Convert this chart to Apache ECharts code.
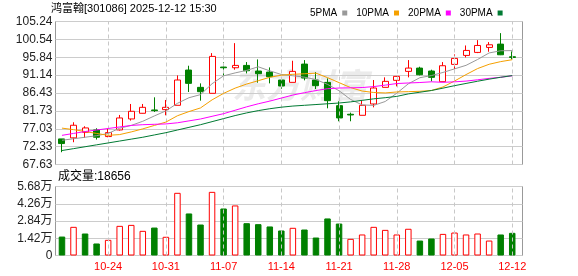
<!DOCTYPE html>
<html><head><meta charset="utf-8">
<script src="https://cdn.jsdelivr.net/npm/echarts@6/dist/echarts.min.js"></script>
<style>html,body{margin:0;padding:0;background:#fff}#c{width:578px;height:276px}</style>
</head><body><div id="c"></div>
<script>
const titleText = '鸿富翰[301086] 2025-12-12 15:30';
const volTitle = '成交量:18656';
const dates = ['10-20','10-21','10-22','10-23','10-24','10-27','10-28','10-29','10-30','10-31',
  '11-03','11-04','11-05','11-06','11-07','11-10','11-11','11-12','11-13','11-14',
  '11-17','11-18','11-19','11-20','11-21','11-24','11-25','11-26','11-27','11-28',
  '12-01','12-02','12-03','12-04','12-05','12-08','12-09','12-10','12-11','12-12'];
const opens  = [74.36,74.63,76.11,76.72,74.98,76.72,79.61,81.10,81.97,82.06,
  83.20,92.47,87.92,86.35,93.26,93.08,93.69,92.21,91.94,89.85,
  89.23,94.04,89.85,89.23,83.11,80.84,80.57,83.55,87.92,89.76,
  92.12,92.99,92.21,89.41,93.96,96.32,97.11,98.42,99.29,95.97];
const closes = [73.14,77.95,77.25,74.80,76.02,79.87,81.62,82.67,81.80,82.67,
  89.85,88.97,86.78,96.06,93.08,93.69,92.29,91.51,90.72,88.27,
  92.12,90.37,88.36,84.42,79.87,80.66,83.20,87.75,89.50,90.81,
  92.99,91.24,90.55,93.61,95.53,97.63,98.94,99.12,96.49,95.79];
const lows   = [70.86,73.49,74.63,74.19,74.80,76.55,79.17,81.05,81.45,80.57,
  83.20,86.70,84.42,86.35,91.07,92.56,91.59,89.15,88.97,87.57,
  89.23,89.76,87.48,82.41,79.00,79.00,80.57,82.67,87.92,88.18,
  90.55,91.07,89.50,89.41,92.73,95.79,96.93,97.28,96.40,95.27];
const highs  = [74.36,78.74,77.69,77.16,77.07,80.66,83.55,83.55,85.30,84.60,
  91.07,93.61,88.97,96.93,94.57,99.55,94.57,95.27,93.17,90.02,
  94.92,95.09,91.94,90.28,84.25,81.27,84.51,89.85,90.55,90.90,
  95.09,93.34,92.56,94.57,96.58,98.94,100.34,99.82,102.18,97.37];
const ma5  = [74.0,74.4,74.8,75.2,75.8,77.18,77.91,79.00,80.40,81.73,
  83.72,85.19,86.01,88.87,90.95,91.72,92.38,93.33,92.26,91.30,
  90.98,90.60,89.97,88.71,87.03,84.74,83.30,83.18,84.20,86.38,
  88.85,90.46,91.02,91.84,92.78,93.71,95.25,96.97,97.54,97.59];
const ma10 = [77.2,76.8,76.3,75.8,75.3,75.5,76.2,77.0,77.9,78.78,
  80.45,81.55,82.51,84.63,86.34,87.72,88.79,89.67,90.56,91.12,
  91.35,91.49,91.65,90.48,89.16,87.86,86.95,86.57,86.45,86.71,
  86.79,86.88,87.10,88.02,89.58,91.28,92.86,93.99,94.69,95.19];
const ma20 = [75.3,75.8,76.3,76.7,77.1,77.5,77.9,78.1,78.2,78.3,
  78.6,79.1,79.6,80.3,81.0,81.9,82.8,83.6,84.3,85.1,
  85.9,86.52,87.08,87.56,87.75,87.79,87.87,88.12,88.51,88.92,
  89.07,89.19,89.38,89.25,89.37,89.57,89.91,90.28,90.57,90.95];
const ma30 = [71.3,71.8,72.3,72.8,73.3,73.8,74.3,74.8,75.4,76.0,
  76.7,77.4,78.1,78.9,79.7,80.5,81.2,81.8,82.3,82.7,
  83.0,83.2,83.4,83.6,83.8,84.1,84.5,84.9,85.2,85.54,
  86.20,86.64,87.09,87.71,88.36,88.95,89.53,90.08,90.57,91.01];
const volumes = [15600,23600,18100,9900,12900,24400,25200,20300,23000,15400,
  51600,34600,25500,52400,38700,41200,26600,25800,23900,20600,
  22800,21400,14800,30500,26300,13700,17300,23600,21100,17300,
  22000,12300,14000,17800,18900,17300,18100,12300,17300,18656];
const maNames = ['5PMA','10PMA','20PMA','30PMA'];
const priceTickLabels = ['67.63','72.33','77.03','81.73','86.43','91.14','95.84','100.54','105.24'];
const volTickLabels = ['0','1.42万','2.84万','4.26万','5.68万'];
const xTickLabels = ['10-24','10-31','11-07','11-14','11-21','11-28','12-05','12-12'];
const priceMin = 67.63, priceMax = 105.24, volMax = 56800;

const FONT = '"Liberation Sans","Noto Sans CJK SC",sans-serif';
const RED = '#ff0000', GREEN = '#008000';
const maColors = ['#999999','#f5a000','#ff00ff','#007a33'];
const chart = echarts.init(document.getElementById('c'), null, {renderer:'canvas'});

const candleData = dates.map((d,i)=>[opens[i], closes[i], lows[i], highs[i]]);
const volData = volumes.map((v,i)=>{
  const down = i === 0 ? closes[i] < opens[i] : closes[i] < closes[i-1];
  return {value: v, itemStyle: down ? {color: GREEN, borderColor: GREEN} : {color: '#fff', borderColor: RED}};
});
const vlines = () => ({silent:true, symbol:'none', animation:false, label:{show:false},
  lineStyle:{color:'#c8c8c8', type:[4,3], width:1},
  emphasis:{disabled:true},
  data: xTickLabels.map(d=>({xAxis:d}))});
const maSeries = [ma5, ma10, ma20, ma30].map((arr,k)=>({
  name: maNames[k], type:'line', xAxisIndex:1, yAxisIndex:1, data: arr,
  symbol:'none', smooth:false, z:5, lineStyle:{width:1, color: maColors[k]},
  itemStyle:{color: maColors[k]}, emphasis:{disabled:true}
}));

const dataLeft = 56.2, dataWidth = 461.8;
chart.setOption({
  animation:false,
  backgroundColor:'#fff',
  textStyle:{fontFamily: FONT},
  legend:{data: maNames, left: 305, top: 3, icon:'rect', itemWidth:5, itemHeight:5, itemGap:9,
    align:'right', textStyle:{fontSize:10, color:'#000', fontFamily: FONT}, selectedMode:false},
  graphic:[
    {type:'text', left:51, top:3, style:{text:titleText, font:'11px ' + FONT, fill:'#000'}},
    {type:'text', left:58, top:171, style:{text:volTitle, font:'12px ' + FONT, fill:'#000'}},
    {type:'text', left:232, top:68, z:-10, style:{text:'东方财富', font:'italic bold 34px "Noto Sans CJK SC"', fill:'#ebebeb'}}
  ],
  grid:[
    {left:55.5, top:21.5, width:467, height:143, show:true, borderColor:'#999', borderWidth:1, backgroundColor:'transparent'},
    {left:dataLeft, top:21.5, width:dataWidth, height:143},
    {left:55.5, top:186.5, width:467, height:69, show:true, borderColor:'#999', borderWidth:1, backgroundColor:'transparent'},
    {left:dataLeft, top:186.5, width:dataWidth, height:69}
  ],
  xAxis:[
    {gridIndex:0, type:'value', min:0, max:1, show:false},
    {gridIndex:1, type:'category', data:dates, boundaryGap:true, axisLine:{show:false}, axisTick:{show:false}, axisLabel:{show:false}, splitLine:{show:false}},
    {gridIndex:2, type:'value', min:0, max:1, show:false},
    {gridIndex:3, type:'category', data:dates, boundaryGap:true, axisLine:{show:false}, axisTick:{show:false}, splitLine:{show:false},
      axisLabel:{show:true, interval:(i,v)=>xTickLabels.includes(v), color:RED, fontSize:11, margin:6, fontFamily:FONT}}
  ],
  yAxis:[
    {gridIndex:0, type:'value', min:0, max:8, interval:1, axisLine:{show:false}, axisTick:{show:false},
      axisLabel:{formatter:v=>priceTickLabels[Math.round(v)], margin:3, fontSize:12, color:'#222', fontFamily:FONT},
      splitLine:{lineStyle:{color:'#cccccc', width:1}}},
    {gridIndex:1, type:'value', min:priceMin, max:priceMax, show:false, splitLine:{show:false}},
    {gridIndex:2, type:'value', min:0, max:4, interval:1, axisLine:{show:false}, axisTick:{show:false},
      axisLabel:{formatter:v=>volTickLabels[Math.round(v)], margin:3, fontSize:12, color:'#222', fontFamily:FONT},
      splitLine:{lineStyle:{color:'#cccccc', width:1}}},
    {gridIndex:3, type:'value', min:0, max:volMax, show:false, splitLine:{show:false}}
  ],
  series:[
    {type:'candlestick', xAxisIndex:1, yAxisIndex:1, data:candleData, barWidth:6.5, z:3,
      itemStyle:{color:'#fff', color0:GREEN, borderColor:RED, borderColor0:GREEN, borderWidth:1},
      emphasis:{disabled:true}, markLine: vlines()},
    ...maSeries,
    {type:'bar', xAxisIndex:3, yAxisIndex:3, data:volData, barWidth:6.5,
      itemStyle:{borderWidth:1}, emphasis:{disabled:true}, markLine: vlines()}
  ]
});
</script></body></html>
